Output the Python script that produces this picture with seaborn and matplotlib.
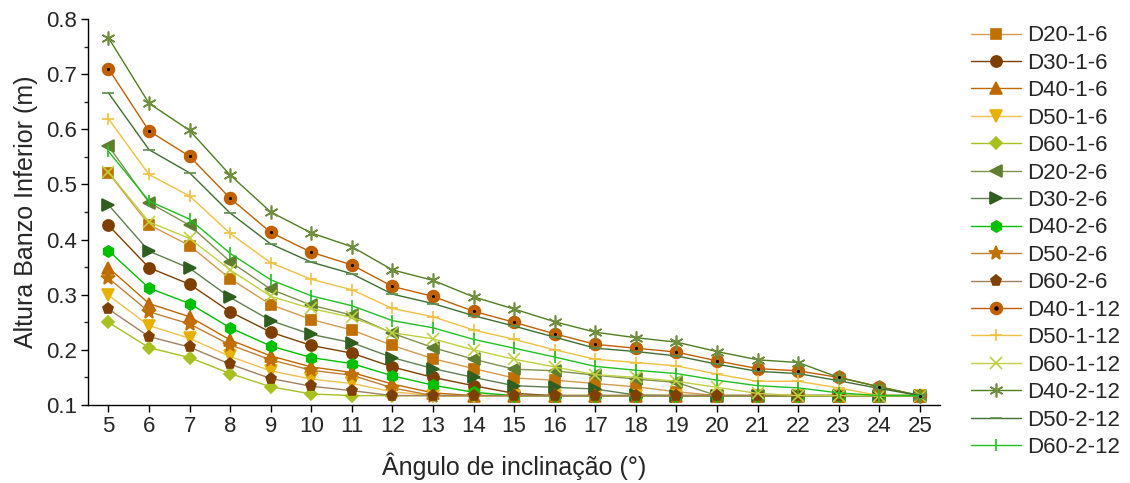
import matplotlib
matplotlib.use("Agg")
import matplotlib.pyplot as plt
import seaborn as sns
import pandas as pd
from matplotlib.legend_handler import HandlerTuple

angles = list(range(5, 26))

D20_1_6 = [0.521, 0.427, 0.389, 0.329, 0.282, 0.255, 0.236, 0.208, 0.184, 0.166, 0.149, 0.145, 0.139, 0.133, 0.124, 0.117, 0.117, 0.117, 0.117, 0.117, 0.117]
D30_1_6 = [0.426, 0.349, 0.319, 0.269, 0.232, 0.208, 0.194, 0.169, 0.150, 0.135, 0.121, 0.117, 0.117, 0.117, 0.117, 0.117, 0.117, 0.117, 0.117, 0.117, 0.117]
D40_1_6 = [0.349, 0.284, 0.260, 0.218, 0.189, 0.169, 0.159, 0.138, 0.122, 0.117, 0.117, 0.117, 0.117, 0.117, 0.117, 0.117, 0.117, 0.117, 0.117, 0.117, 0.117]
D50_1_6 = [0.299, 0.244, 0.221, 0.188, 0.162, 0.147, 0.139, 0.124, 0.117, 0.117, 0.117, 0.117, 0.117, 0.117, 0.117, 0.117, 0.117, 0.117, 0.117, 0.117, 0.117]
D60_1_6 = [0.250, 0.204, 0.186, 0.157, 0.133, 0.120, 0.117, 0.117, 0.117, 0.117, 0.117, 0.117, 0.117, 0.117, 0.117, 0.117, 0.117, 0.117, 0.117, 0.117, 0.117]
D20_2_6 = [0.570, 0.467, 0.426, 0.360, 0.310, 0.281, 0.263, 0.230, 0.204, 0.183, 0.165, 0.162, 0.154, 0.147, 0.141, 0.117, 0.117, 0.117, 0.117, 0.117, 0.117]
D30_2_6 = [0.463, 0.379, 0.348, 0.295, 0.253, 0.228, 0.213, 0.186, 0.166, 0.150, 0.135, 0.132, 0.129, 0.118, 0.117, 0.117, 0.117, 0.117, 0.117, 0.117, 0.117]
D40_2_6 = [0.380, 0.312, 0.284, 0.240, 0.207, 0.186, 0.175, 0.153, 0.136, 0.123, 0.117, 0.117, 0.117, 0.117, 0.117, 0.117, 0.117, 0.117, 0.117, 0.117, 0.117]
D50_2_6 = [0.330, 0.269, 0.247, 0.209, 0.182, 0.163, 0.154, 0.131, 0.117, 0.117, 0.117, 0.117, 0.117, 0.117, 0.117, 0.117, 0.117, 0.117, 0.117, 0.117, 0.117]
D60_2_6 = [0.274, 0.224, 0.205, 0.174, 0.148, 0.134, 0.126, 0.117, 0.117, 0.117, 0.117, 0.117, 0.117, 0.117, 0.117, 0.117, 0.117, 0.117, 0.117, 0.117, 0.117]
D40_1_12 = [0.710, 0.597, 0.551, 0.475, 0.413, 0.377, 0.354, 0.315, 0.297, 0.270, 0.250, 0.229, 0.210, 0.203, 0.196, 0.180, 0.166, 0.162, 0.150, 0.133, 0.117]
D50_1_12 = [0.619, 0.518, 0.479, 0.411, 0.358, 0.328, 0.309, 0.275, 0.260, 0.236, 0.219, 0.200, 0.183, 0.177, 0.171, 0.156, 0.143, 0.143, 0.131, 0.117, 0.117]
D60_1_12 = [0.522, 0.432, 0.402, 0.345, 0.297, 0.275, 0.259, 0.231, 0.220, 0.200, 0.183, 0.169, 0.155, 0.150, 0.143, 0.132, 0.121, 0.117, 0.117, 0.117, 0.117]
D40_2_12 = [0.766, 0.647, 0.598, 0.517, 0.450, 0.412, 0.387, 0.345, 0.326, 0.296, 0.274, 0.251, 0.232, 0.222, 0.214, 0.197, 0.182, 0.177, 0.150, 0.133, 0.117]
D50_2_12 = [0.666, 0.563, 0.521, 0.448, 0.392, 0.359, 0.338, 0.301, 0.284, 0.262, 0.243, 0.223, 0.203, 0.197, 0.189, 0.174, 0.161, 0.157, 0.144, 0.130, 0.117]
D60_2_12 = [0.560, 0.470, 0.437, 0.375, 0.327, 0.298, 0.280, 0.253, 0.240, 0.219, 0.203, 0.187, 0.170, 0.163, 0.157, 0.145, 0.135, 0.131, 0.122, 0.117, 0.117]

labels = ["D20-1-6", "D30-1-6", "D40-1-6", "D50-1-6", "D60-1-6",
          "D20-2-6", "D30-2-6", "D40-2-6", "D50-2-6", "D60-2-6",
          "D40-1-12", "D50-1-12", "D60-1-12", "D40-2-12", "D50-2-12", "D60-2-12"]
values = [D20_1_6, D30_1_6, D40_1_6, D50_1_6, D60_1_6,
          D20_2_6, D30_2_6, D40_2_6, D50_2_6, D60_2_6,
          D40_1_12, D50_1_12, D60_1_12, D40_2_12, D50_2_12, D60_2_12]

# style: (marker color, line color, marker, size)
styles = {
    "D20-1-6": ("#C07000", "#D49A50", "s", 7),
    "D30-1-6": ("#7F3F00", "#7F3F00", "o", 8),
    "D40-1-6": ("#C06800", "#C06800", "^", 8),
    "D50-1-6": ("#E8B000", "#F0C050", "v", 8),
    "D60-1-6": ("#A8C020", "#A8C020", "D", 6.5),
    "D20-2-6": ("#5F7F2F", "#7F9050", "<", 8),
    "D30-2-6": ("#2F5F1F", "#5F8050", ">", 8),
    "D40-2-6": ("#00C000", "#00C000", "h", 8),
    "D50-2-6": ("#C07000", "#C08030", "*", 10),
    "D60-2-6": ("#7F3F00", "#A08060", "p", 8),
    "D40-1-12": ("#C06000", "#C06000", "o", 8.5),
    "D50-1-12": ("#F0C040", "#F0C040", "+", 9),
    "D60-1-12": ("#C0D040", "#C0D040", "x", 8),
    "D40-2-12": ("#6F8F3F", "#4F7F1F", (6, 2, 0), 10),
    "D50-2-12": ("#5F8F4F", "#3F6F2F", "_", 9),
    "D60-2-12": ("#20C020", "#20C020", "|", 9),
}

sns.set_style("ticks")
plt.rcParams["font.family"] = ["Liberation Sans", "DejaVu Sans"]

fig = plt.figure(figsize=(11.3, 4.83), dpi=100)
ax = fig.add_axes([0.078, 0.1615, 0.754, 0.7992])

handles = []
for lab, vals in zip(labels, values):
    mc, lc, mk, ms = styles[lab]
    df = pd.DataFrame({"x": angles, "y": vals})
    sns.lineplot(data=df, x="x", y="y", ax=ax, color=lc, linewidth=1.0,
                 marker=mk, markersize=ms, markerfacecolor=mc,
                 markeredgecolor=mc, markeredgewidth=1.2, label=lab,
                 legend=False)
    line = ax.get_lines()[-1]
    if lab == "D40-1-12":
        sns.scatterplot(x=angles, y=vals, ax=ax, color="black", s=5,
                        linewidth=0, zorder=5, legend=False)
        dot_handle = plt.Line2D([], [], linestyle="none", marker="o",
                                markersize=2.2, color="black")
        handles.append((line, dot_handle))
    else:
        handles.append(line)

ax.set_xlim(4.5, 25.5)
ax.set_ylim(0.1, 0.8)
ax.set_xticks(angles)
ax.set_yticks([0.1, 0.2, 0.3, 0.4, 0.5, 0.6, 0.7, 0.8])
ax.set_yticks([0.15, 0.25, 0.35, 0.45, 0.55, 0.65, 0.75], minor=True)
ax.tick_params(axis="both", which="major", labelsize=16, direction="out",
               length=5, width=1, color="black", pad=3)
ax.tick_params(axis="y", which="minor", direction="out", length=3, width=1)
for s in ["left", "bottom"]:
    ax.spines[s].set_color("black")
    ax.spines[s].set_linewidth(1.0)
sns.despine(ax=ax)
ax.set_xlabel("Ângulo de inclinação (°)", fontsize=18, labelpad=11)
ax.set_ylabel("Altura Banzo Inferior (m)", fontsize=18, labelpad=6)

fig.legend(handles, labels, loc="upper left", bbox_to_anchor=(0.851, 0.966),
           frameon=False, fontsize=16, handlelength=2.25, handletextpad=0.3,
           labelspacing=0.29, borderaxespad=0,
           handler_map={tuple: HandlerTuple(ndivide=1, pad=0)})

fig.savefig("out.png", dpi=100)
